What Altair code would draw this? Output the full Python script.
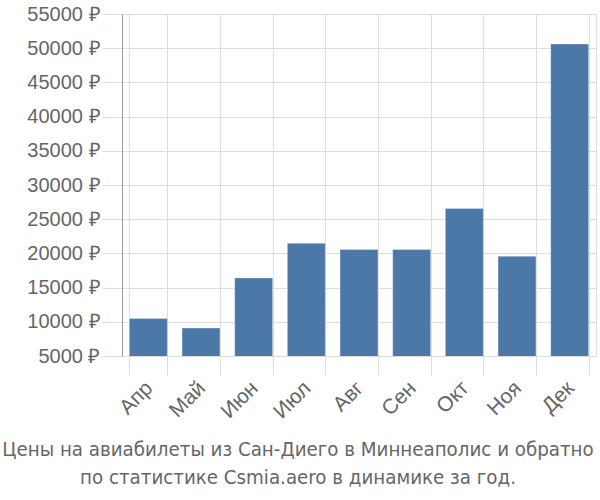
import altair as alt
import pandas as pd

months = ["Апр", "Май", "Июн", "Июл", "Авг", "Сен", "Окт", "Ноя", "Дек"]
prices = [10470, 9090, 16400, 21480, 20560, 20560, 26550, 19580, 50620]
y_ticks = [5000, 10000, 15000, 20000, 25000, 30000, 35000, 40000, 45000, 50000, 55000]
title_lines = ["Цены на авиабилеты из Сан-Диего в Миннеаполис и обратно",
               "по статистике Csmia.aero в динамике за год."]

df = pd.DataFrame({"month": months, "price": prices})

chart = alt.Chart(df).mark_bar(color="#4c78a8", stroke="#ffffff", strokeWidth=0.6,
                               strokeOpacity=0.5, clip=True).encode(
    x=alt.X("month:N", sort=months, title=None,
            scale=alt.Scale(paddingInner=0.28, paddingOuter=0.14),
            axis=alt.Axis(labelAngle=-45, labelFontSize=21, labelColor="#666666",
                          labelFont="Liberation Sans", tickBand="extent", grid=True,
                          gridColor="#dddddd", tickColor="#dddddd", tickSize=19,
                          domain=False, labelPadding=2, labelOffset=-7)),
    y=alt.Y("price:Q", title=None,
            scale=alt.Scale(domain=[5000, 55000], nice=False, zero=False),
            axis=alt.Axis(values=y_ticks, labelExpr="datum.value + ' ₽'", labelFontSize=20,
                          labelColor="#666666", labelFont="Liberation Sans",
                          gridColor="#dddddd", tickColor="#dddddd", tickSize=20,
                          domainColor="#999999", labelPadding=2)),
).properties(
    width=474, height=342,
    title=alt.TitleParams(text=title_lines, orient="bottom", anchor="middle",
                          font="DejaVu Sans Condensed, Liberation Sans", fontSize=20.3, fontWeight="normal",
                          color="#666666", lineHeight=28.5, offset=18, dx=-61),
    autosize=alt.AutoSizeParams(type="none"),
    padding={"left": 122, "top": 14, "right": 4, "bottom": 144},
).configure_view(stroke="#dddddd")

chart.save("out.html", embed_options={"renderer": "svg", "actions": False})
